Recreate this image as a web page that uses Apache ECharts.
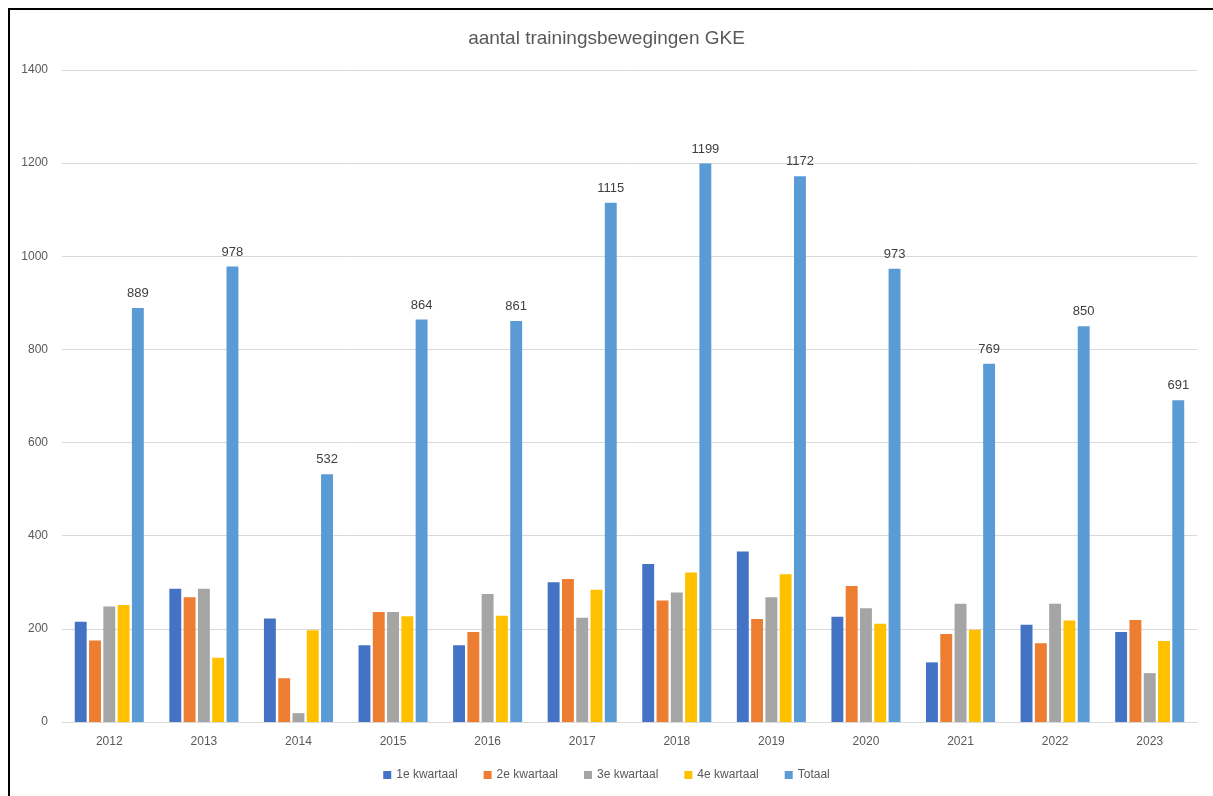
<!DOCTYPE html>
<html>
<head>
<meta charset="utf-8">
<script src="https://cdn.jsdelivr.net/npm/echarts@6/dist/echarts.min.js"></script>
<style>
html,body{margin:0;padding:0;background:#fff;}
#chart{width:1213px;height:796px;}
#frame{position:absolute;left:8px;top:8px;width:1220px;height:800px;border-left:2px solid #000;border-top:2px solid #000;pointer-events:none;}
</style>
</head>
<body>
<div id="chart"></div>
<div id="frame"></div>
<script>
const years = ['2012','2013','2014','2015','2016','2017','2018','2019','2020','2021','2022','2023'];
const q1 = [215, 286, 222, 165, 165, 300, 339, 366, 226, 128, 209, 193];
const q2 = [175, 268, 94, 236, 193, 307, 261, 221, 292, 189, 169, 219];
const q3 = [248, 286, 19, 236, 275, 224, 278, 268, 244, 254, 254, 105];
const q4 = [251, 138, 197, 227, 228, 284, 321, 317, 211, 198, 218, 174];
const totaal = [889, 978, 532, 864, 861, 1115, 1199, 1172, 973, 769, 850, 691];
const seriesNames = ['1e kwartaal','2e kwartaal','3e kwartaal','4e kwartaal','Totaal'];
const colors = ['#4472C4','#ED7D31','#A5A5A5','#FFC000','#5B9BD5'];
const yTicks = [0,200,400,600,800,1000,1200,1400];

const font = "'Liberation Sans', 'Open Sans', sans-serif";
const chart = echarts.init(document.getElementById('chart'));
const dataSets = [q1,q2,q3,q4,totaal];
chart.setOption({
  animation:false,
  backgroundColor:'#fff',
  title:{text:'aantal trainingsbewegingen GKE',left:'center',top:24,
    textStyle:{fontFamily:font,fontSize:19,fontWeight:'normal',color:'#595959'}},
  legend:{data:seriesNames,bottom:10,left:'center',itemWidth:8,itemHeight:8,itemGap:26,icon:'rect',
    textStyle:{fontFamily:font,fontSize:12,color:'#595959'}},
  grid:{left:62,right:16,top:70,bottom:74},
  xAxis:{type:'category',data:years,
    axisLine:{lineStyle:{color:'#D9D9D9',width:1}},axisTick:{show:false},
    axisLabel:{fontFamily:font,fontSize:12,color:'#595959',margin:14}},
  yAxis:{type:'value',min:yTicks[0],max:yTicks[yTicks.length-1],interval:200,
    axisLine:{show:false},axisTick:{show:false},
    splitLine:{lineStyle:{color:'#D9D9D9',width:1}},
    axisLabel:{fontFamily:font,fontSize:12,color:'#595959',margin:14,formatter:v=>String(v)}},
  series:dataSets.map((d,i)=>({
    name:seriesNames[i],type:'bar',data:d,
    barCategoryGap:'27%',barGap:'20%',
    itemStyle:{color:colors[i]},
    label: i===4 ? {show:true,position:'top',distance:8,fontFamily:font,fontSize:13,color:'#404040'} : {show:false}
  }))
});
</script>
</body>
</html>
